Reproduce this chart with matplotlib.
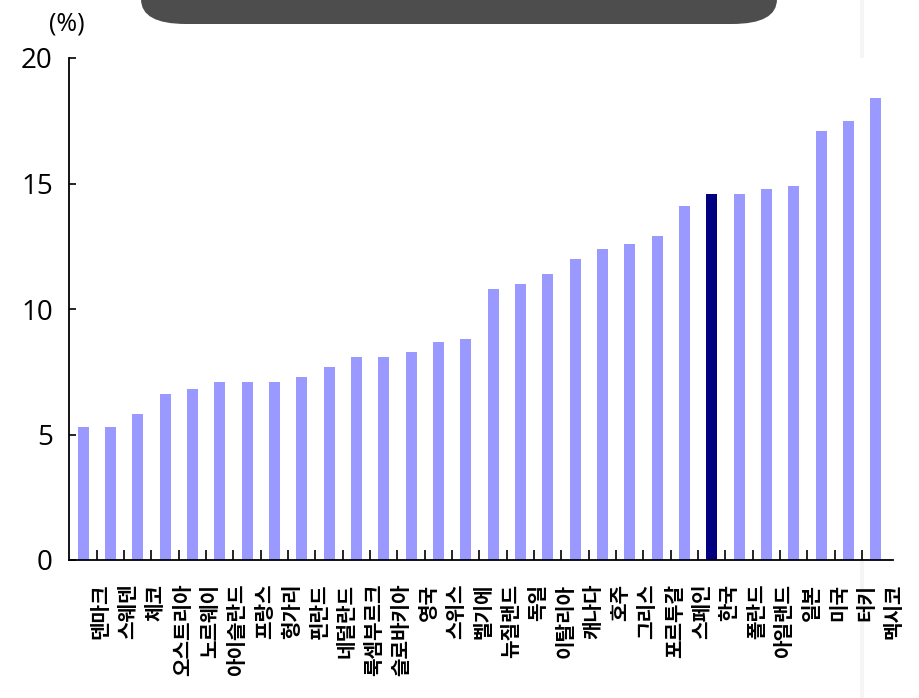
import numpy as np
import matplotlib
matplotlib.use("Agg")
import matplotlib.pyplot as plt
from matplotlib.patches import FancyBboxPatch
from matplotlib.lines import Line2D

# OECD relative poverty rates (mid-2000s), sorted ascending
countries = [
    "덴마크", "스웨덴", "체코", "오스트리아", "노르웨이", "아이슬란드",
    "프랑스", "헝가리", "핀란드", "네덜란드", "룩셈부르크", "슬로바키아",
    "영국", "스위스", "벨기에", "뉴질랜드", "독일", "이탈리아", "캐나다",
    "호주", "그리스", "포르투갈", "스페인", "한국", "폴란드", "아일랜드",
    "일본", "미국", "터키", "멕시코",
]
rates = [
    5.3, 5.3, 5.8, 6.6, 6.8, 7.1, 7.1, 7.1, 7.3, 7.7, 8.1, 8.1, 8.3, 8.7, 8.8,
    10.8, 11.0, 11.4, 12.0, 12.4, 12.6, 12.9, 14.1, 14.6, 14.6, 14.8, 14.9,
    17.1, 17.5, 18.4,
]
highlight = "한국"
y_ticks = [0, 5, 10, 15, 20]

W, H = 920, 698
fig = plt.figure(figsize=(W / 100, H / 100), dpi=100)
fig.patch.set_facecolor("white")
ax = fig.add_axes([69.5 / W, 1 - 560 / H, (893 - 69.5) / W, (560 - 58) / H])

x = np.arange(len(countries))
colors = ["#000080" if c == highlight else "#9999ff" for c in countries]
ax.bar(x, rates, width=0.4, color=colors, edgecolor="none", zorder=2)

ax.set_xlim(-0.5, len(countries) - 0.5)
ax.set_ylim(0, 20)

ax.spines["top"].set_visible(False)
ax.spines["right"].set_visible(False)
for s in ("left", "bottom"):
    ax.spines[s].set_linewidth(1.3)
    ax.spines[s].set_color("black")

ax.set_yticks(y_ticks)
ax.set_yticklabels([str(v) for v in y_ticks], fontsize=20, family="Open Sans")
ax.tick_params(axis="y", direction="in", length=5, width=1.2, pad=12)

# tick marks on category boundaries, labels shifted as in the source
ax.set_xticks(x[:-1] + 0.5)
ax.set_xticklabels([])
ax.tick_params(axis="x", which="major", direction="in", length=7, width=1.2)
ax.set_xticks(x + 0.63, minor=True)
ax.set_xticklabels(countries, minor=True, rotation=90, va="top", ha="center",
                   fontsize=14.5, fontweight="bold",
                   family=["Noto Sans CJK KR", "DejaVu Sans"])
ax.tick_params(axis="x", which="minor", length=0, pad=17)

fig.text(67 / W, 1 - 24 / H, "(%)", fontsize=18, family="Open Sans",
         ha="center", va="center")

# dark banner at the top of the image
banner = FancyBboxPatch((141, H - 24), 636, 80,
                        boxstyle="round,pad=0,rounding_size=45",
                        mutation_aspect=0.55, transform=None,
                        facecolor="#4d4d4d", edgecolor="none")
fig.add_artist(banner)

# faint vertical line near the right edge
fig.add_artist(Line2D([862 / W, 862 / W], [0, 1], transform=fig.transFigure,
                      color="#f5f5f5", lw=3, zorder=0))

fig.savefig("out.png", dpi=100, facecolor="white")
